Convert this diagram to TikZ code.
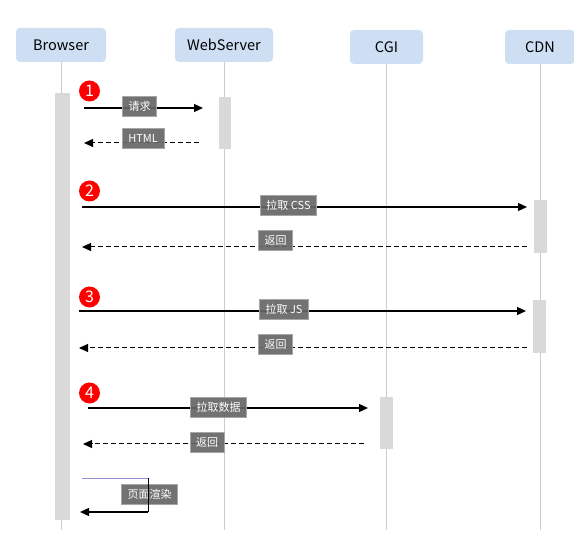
\documentclass[tikz,border=0pt]{standalone}
\usepackage{fontspec}
\setmainfont{Noto Sans CJK SC}
\usetikzlibrary{arrows.meta}
\definecolor{headblue}{HTML}{CFDFF3}
\definecolor{lifegray}{HTML}{CCCCCC}
\definecolor{bargray}{HTML}{D9D9D9}
\definecolor{taggray}{HTML}{666666}
\definecolor{selfblue}{HTML}{9090CC}
\begin{document}
\begin{tikzpicture}[x=1pt,y=-1pt,
	actor/.style={fill=headblue,rounded corners=4pt,minimum height=34pt,inner sep=0pt,font=\fontsize{14.5}{16}\selectfont},
	life/.style={draw=lifegray,line width=0.8pt},
	actbar/.style={fill=bargray},
	msg/.style={line width=1.2pt,-{Triangle[length=9pt,width=8pt]}},
	reply/.style={msg,line width=1pt,dash pattern=on 5pt off 3pt},
	tag/.style={fill=taggray,fill opacity=0.92,text opacity=1,draw=gray!70,line width=0.4pt,text=white,font=\fontsize{11}{13}\selectfont,inner xsep=6pt,inner ysep=0pt,minimum height=20pt},
	num/.style={circle,fill=red,text=white,minimum size=21pt,inner sep=0pt,font=\fontsize{16}{16}\selectfont}]
\useasboundingbox (0,0) rectangle (574,548);
% headers and lifelines
\node [actor,minimum width=90pt] (browser) at (61,45) {Browser};
\node [actor,minimum width=98pt] (web) at (224,45) {WebServer};
\node [actor,minimum width=73pt] (cgi) at (386.5,47) {CGI};
\node [actor,minimum width=70pt] (cdn) at (540,47) {CDN};
\coordinate (bottom) at (0,530);
\foreach \a in {browser,web,cgi,cdn}
	\draw [life] (\a.south) -- (\a.south |- bottom);
% activation bars
\fill [actbar] (55,93) rectangle (70,520);
\fill [actbar] (219,97) rectangle (231,149);
\fill [actbar] (534,200) rectangle (547,253);
\fill [actbar] (533,300) rectangle (546,353);
\fill [actbar] (380,397) rectangle (393,449);
% steps
\foreach \n/\y in {1/91,2/191,3/297,4/393}
	\node [num] (n\n) at (89.5,\y) {\n};
% requests
\foreach \m/\xa/\xb/\y in {a/84/203/108,b/82/527/207,c/79/526/311,d/88/368/408} {
	\coordinate (\m s) at (\xa,\y);
	\coordinate (\m e) at (\xb,\y);
	\draw [msg] (\m s) -- (\m e);
}
% replies
\foreach \m/\xa/\xb/\y in {e/199/84/143,f/527/82/247,g/527/79/348,h/364/83/444} {
	\coordinate (\m s) at (\xa,\y);
	\coordinate (\m e) at (\xb,\y);
	\draw [reply] (\m s) -- (\m e);
}
% labels
\node [tag] (qq) at (139.5,106) {请求};
\node [tag] (html) at (143,138.5) {HTML};
\node [tag] (css) at (288.5,205.5) {拉取 CSS};
\node [tag] (fh1) at (275.5,240.5) {返回};
\node [tag] (js) at (284,309) {拉取 JS};
\node [tag] (fh2) at (275.5,344) {返回};
\node [tag] (data) at (218.5,407.5) {拉取数据};
\node [tag] (fh3) at (207,442.5) {返回};
\node [tag] (render) at (149.5,494) {页面渲染};
% self message
\coordinate (ra) at (82,478);
\coordinate (rb) at (148,478);
\coordinate (rc) at (148,512);
\coordinate (rd) at (80,512);
\draw [draw=selfblue,line width=0.9pt] (ra) -- (rb);
\draw [line width=0.6pt] (rb) -- (rc);
\draw [msg] (rc) -- (rd);
\end{tikzpicture}
\end{document}
